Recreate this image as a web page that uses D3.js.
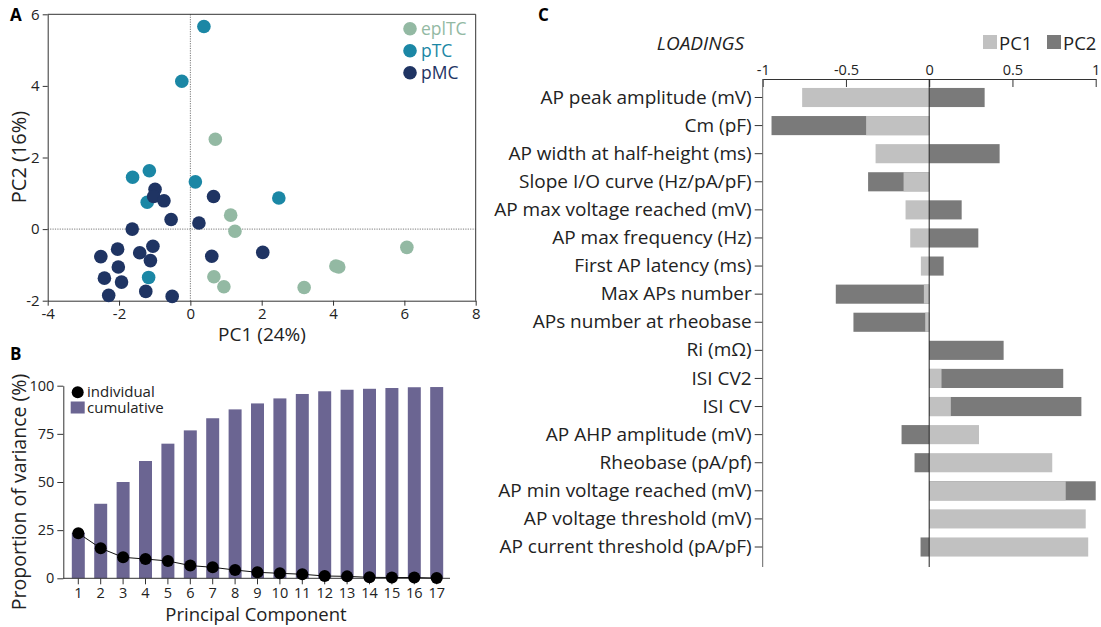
<!DOCTYPE html>
<html>
<head>
<meta charset="utf-8">
<script src="https://cdn.jsdelivr.net/npm/d3@7"></script>
<style>
  body { margin: 0; background: #fff; }
  svg text { font-family: "Open Sans", sans-serif; fill: #222; }
  .axis path, .axis line { stroke: #333; }
</style>
</head>
<body>
<svg id="fig" width="1101" height="627"></svg>
<script>
// ---- panel A data (PC scores per cell) ----
var groups = ["eplTC", "pTC", "pMC"];
var groupColors = ["#93b9a3", "#1b87a5", "#1f3463"];

var eplTC_x = [0.70, 1.13, 1.25, 0.66, 0.94, 3.19, 4.08, 4.16, 6.07];
var eplTC_y = [2.51, 0.39, -0.06, -1.33, -1.61, -1.63, -1.03, -1.06, -0.51];
var pTC_x = [0.38, -0.24, -1.62, -1.15, -1.21, 0.14, -1.17, 2.48];
var pTC_y = [5.66, 4.13, 1.45, 1.63, 0.75, 1.32, -1.35, 0.87];
var pMC_x = [-0.99, -1.03, -0.74, -0.54, 0.65, 0.24, -1.63, -2.51, -2.04, -1.42, -1.05, -1.12, -2.02, -2.41, -1.93, -1.25, -2.29, -0.51, 0.60, 2.03];
var pMC_y = [1.11, 0.91, 0.79, 0.27, 0.91, 0.17, 0.00, -0.77, -0.56, -0.66, -0.48, -0.88, -1.06, -1.37, -1.48, -1.74, -1.85, -1.88, -0.76, -0.65];

// ---- panel B data ----
var components = d3.range(1, 18);
var cumulative = [23.7, 38.7, 50.0, 60.9, 69.9, 76.8, 83.1, 87.7, 90.8, 93.4, 95.7, 97.1, 97.9, 98.4, 98.8, 99.2, 99.3];
var individual = [23.4, 15.6, 10.9, 10.0, 9.0, 6.6, 5.7, 4.3, 3.1, 2.6, 2.1, 1.2, 1.0, 0.5, 0.4, 0.4, 0.1];

// ---- panel C data ----
var features = ["AP peak amplitude (mV)", "Cm (pF)", "AP width at half-height (ms)", "Slope I/O curve (Hz/pA/pF)",
  "AP max voltage reached (mV)", "AP max frequency (Hz)", "First AP latency (ms)", "Max APs number",
  "APs number at rheobase", "Ri (m\u03A9)", "ISI CV2", "ISI CV", "AP AHP amplitude (mV)", "Rheobase (pA/pf)",
  "AP min voltage reached (mV)", "AP voltage threshold (mV)", "AP current threshold (pA/pF)"];
var pc1 = [-0.763, -0.379, -0.322, -0.154, -0.142, -0.114, -0.05, -0.032, -0.024, 0.0, 0.074, 0.130, 0.299, 0.739, 0.820, 0.940, 0.955];
var pc2 = [0.333, -0.947, 0.423, -0.367, 0.195, 0.295, 0.087, -0.561, -0.455, 0.447, 0.805, 0.914, -0.166, -0.088, 1.0, 0.0, -0.052];

var svg = d3.select("#fig");

function panelLabel(txt, x, y) {
  svg.append("text").attr("x", x).attr("y", y).text(txt)
    .style("font-size", "17px").style("font-weight", "bold").style("fill", "#000");
}

// =========== A ===========
var ax = d3.scaleLinear().domain([-4, 8]).range([47.7, 475.7]);
var ay = d3.scaleLinear().domain([-2, 6]).range([300.7, 14.3]);
var gA = svg.append("g");

gA.append("line").attr("x1", ax(0)).attr("x2", ax(0)).attr("y1", ay(6)).attr("y2", ay(-2))
  .attr("stroke", "#777").attr("stroke-dasharray", "1.2,1.2");
gA.append("line").attr("x1", ax(-4)).attr("x2", ax(8)).attr("y1", ay(0)).attr("y2", ay(0))
  .attr("stroke", "#777").attr("stroke-dasharray", "1.2,1.2");

gA.append("g").attr("class", "axis").attr("transform", "translate(0," + ay(-2) + ")")
  .call(d3.axisBottom(ax).tickValues([-4, -2, 0, 2, 4, 6, 8]).tickSize(5).tickSizeOuter(0).tickFormat(String))
  .selectAll("text").style("font-size", "15px");
gA.append("g").attr("class", "axis").attr("transform", "translate(" + ax(-4) + ",0)")
  .call(d3.axisLeft(ay).tickValues([-2, 0, 2, 4, 6]).tickSize(5).tickSizeOuter(0).tickFormat(String))
  .selectAll("text").style("font-size", "15px");
// top and right frame
gA.append("line").attr("x1", ax(-4)).attr("x2", ax(8)).attr("y1", ay(6)).attr("y2", ay(6)).attr("stroke", "#333");
gA.append("line").attr("x1", ax(8)).attr("x2", ax(8)).attr("y1", ay(6)).attr("y2", ay(-2)).attr("stroke", "#333");

var groupX = [eplTC_x, pTC_x, pMC_x];
var groupY = [eplTC_y, pTC_y, pMC_y];
groups.forEach(function(g, gi) {
  gA.selectAll(".pt" + gi).data(groupX[gi]).enter().append("circle")
    .attr("class", "pt" + gi)
    .attr("cx", function(d) { return ax(d); })
    .attr("cy", function(d, i) { return ay(groupY[gi][i]); })
    .attr("r", 6.8)
    .attr("fill", groupColors[gi]);
});

// legend A
groups.forEach(function(g, gi) {
  gA.append("circle").attr("cx", 410).attr("cy", 28.7 + gi * 22).attr("r", 6.8).attr("fill", groupColors[gi]);
  gA.append("text").attr("x", 421).attr("y", 28.7 + gi * 22 + 6.3).text(g)
    .style("font-size", "17.5px").style("fill", groupColors[gi]);
});

gA.append("text").attr("x", 262).attr("y", 341).attr("text-anchor", "middle").text("PC1 (24%)").style("font-size", "19px");
gA.append("text").attr("transform", "translate(26,157) rotate(-90)").attr("text-anchor", "middle")
  .text("PC2 (16%)").style("font-size", "20px");
panelLabel("A", 10, 21);

// =========== B ===========
var bx = d3.scaleBand().domain(components).range([67.1, 447.9]).paddingInner(0.42).paddingOuter(0.21);
var by = d3.scaleLinear().domain([0, 100]).range([578.3, 385.7]);
var gB = svg.append("g");

gB.selectAll(".cum").data(cumulative).enter().append("rect")
  .attr("class", "cum")
  .attr("x", function(d, i) { return bx(components[i]); })
  .attr("width", bx.bandwidth())
  .attr("y", function(d) { return by(d); })
  .attr("height", function(d) { return by(0) - by(d); })
  .attr("fill", "#6b6592");

gB.append("g").attr("class", "axis").attr("transform", "translate(63.3,0)")
  .call(d3.axisLeft(by).tickValues([0, 25, 50, 75, 100]).tickSize(6).tickSizeOuter(0))
  .selectAll("text").style("font-size", "14.5px");
var xAxB = gB.append("g").attr("class", "axis").attr("transform", "translate(0," + by(0) + ")")
  .call(d3.axisBottom(bx).tickSize(6).tickSizeOuter(0));
xAxB.selectAll("text").style("font-size", "14.5px");
xAxB.select(".domain").attr("d", "M63.3,0H450");

var line = d3.line()
  .x(function(d, i) { return bx(components[i]) + bx.bandwidth() / 2; })
  .y(function(d) { return by(d); });
gB.append("path").datum(individual).attr("d", line).attr("fill", "none").attr("stroke", "#111").attr("stroke-width", 1);
gB.selectAll(".ind").data(individual).enter().append("circle")
  .attr("class", "ind")
  .attr("cx", function(d, i) { return bx(components[i]) + bx.bandwidth() / 2; })
  .attr("cy", function(d) { return by(d); })
  .attr("r", 6).attr("fill", "#000");

// legend B
gB.append("circle").attr("cx", 77.7).attr("cy", 392.3).attr("r", 6).attr("fill", "#000");
gB.append("text").attr("x", 87).attr("y", 397).text("individual").style("font-size", "15px");
gB.append("rect").attr("x", 70.7).attr("y", 401.5).attr("width", 14).attr("height", 12).attr("fill", "#6b6592");
gB.append("text").attr("x", 87).attr("y", 413).text("cumulative").style("font-size", "15px");

gB.append("text").attr("x", 256).attr("y", 621).attr("text-anchor", "middle").text("Principal Component").style("font-size", "18.5px");
gB.append("text").attr("transform", "translate(26,492) rotate(-90)").attr("text-anchor", "middle")
  .text("Proportion of variance (%)").style("font-size", "19.5px");
panelLabel("B", 10, 360);

// =========== C ===========
var cx = d3.scaleLinear().domain([-1, 1]).range([762.7, 1095.7]);
var cy = d3.scaleBand().domain(features).range([83.45, 561.05]).paddingInner(0.32).paddingOuter(0.16);
var gC = svg.append("g");

gC.selectAll(".pc2").data(pc2).enter().append("rect")
  .attr("class", "pc2")
  .attr("x", function(d) { return cx(Math.min(0, d)); })
  .attr("width", function(d) { return Math.abs(cx(d) - cx(0)); })
  .attr("y", function(d, i) { return cy(features[i]); })
  .attr("height", cy.bandwidth())
  .attr("fill", "#7a7a7a");
gC.selectAll(".pc1").data(pc1).enter().append("rect")
  .attr("class", "pc1")
  .attr("x", function(d) { return cx(Math.min(0, d)); })
  .attr("width", function(d) { return Math.abs(cx(d) - cx(0)); })
  .attr("y", function(d, i) { return cy(features[i]); })
  .attr("height", cy.bandwidth())
  .attr("fill", "#c1c1c1");

var topAx = gC.append("g").attr("class", "axis").attr("transform", "translate(0,79)")
  .call(d3.axisTop(cx).tickValues([-1, -0.5, 0, 0.5, 1]).tickSize(-8).tickSizeOuter(0).tickPadding(4).tickFormat(String));
topAx.selectAll("text").style("font-size", "14.5px");
topAx.selectAll("line").attr("stroke", "#666");

var leftAx = gC.append("g").attr("class", "axis").attr("transform", "translate(762.7,0)")
  .call(d3.axisLeft(cy).tickSize(8).tickPadding(3));
leftAx.select(".domain").remove();
leftAx.selectAll("text").style("font-size", "19px");
leftAx.selectAll("line").attr("stroke", "#666");
gC.append("line").attr("x1", 762.7).attr("x2", 762.7).attr("y1", 79).attr("y2", 567).attr("stroke", "#666");
gC.append("line").attr("x1", cx(0)).attr("x2", cx(0)).attr("y1", 79).attr("y2", 567).attr("stroke", "#222");

gC.append("text").attr("x", 744).attr("y", 50).attr("text-anchor", "end").text("LOADINGS")
  .style("font-size", "19px").style("font-style", "italic");
var legC = [["PC1", "#c1c1c1"], ["PC2", "#7a7a7a"]];
legC.forEach(function(l, i) {
  gC.append("rect").attr("x", 983 + i * 64).attr("y", 35).attr("width", 14).attr("height", 14).attr("fill", l[1]);
  gC.append("text").attr("x", 999 + i * 64).attr("y", 49.5).text(l[0]).style("font-size", "18.5px");
});
panelLabel("C", 538, 21);
</script>
</body>
</html>
